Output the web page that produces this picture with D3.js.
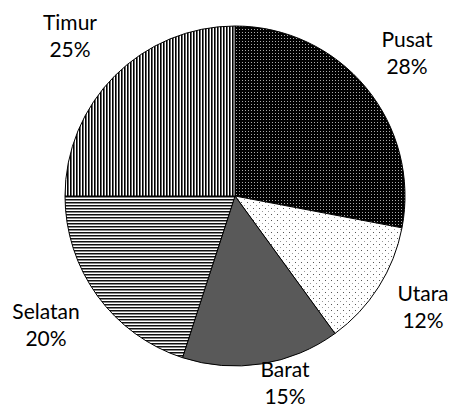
<!DOCTYPE html>
<html><head><meta charset="utf-8">
<script src="https://cdn.jsdelivr.net/npm/d3@7"></script>
<style>body{margin:0;background:#fff}</style>
</head><body>
<svg id="c" width="454" height="410"></svg>
<script>
const categories = ["Pusat","Utara","Barat","Selatan","Timur"];
const values = [28,12,15,20,25];
const labels = ["28%","12%","15%","20%","25%"];
const fills = ["url(#pPusat)","url(#pUtara)","#595959","url(#pSelatan)","url(#pTimur)"];
const labelPos = [[407,47],[423,301],[285,377],[46,319],[70,30]];

const svg = d3.select("#c");
const defs = svg.append("defs");
let p = defs.append("pattern").attr("id","pPusat").attr("patternUnits","userSpaceOnUse").attr("width",3).attr("height",3);
p.append("rect").attr("width",3).attr("height",3).attr("fill","#000");
p.append("rect").attr("x",1).attr("y",1).attr("width",1).attr("height",1).attr("fill","#aaa");
p = defs.append("pattern").attr("id","pUtara").attr("patternUnits","userSpaceOnUse").attr("width",6).attr("height",6);
p.append("rect").attr("width",6).attr("height",6).attr("fill","#fff");
p.append("rect").attr("x",0).attr("y",0).attr("width",1).attr("height",1).attr("fill","#555");
p.append("rect").attr("x",3).attr("y",3).attr("width",1).attr("height",1).attr("fill","#999");
p = defs.append("pattern").attr("id","pSelatan").attr("patternUnits","userSpaceOnUse").attr("width",4).attr("height",3);
p.append("rect").attr("width",4).attr("height",3).attr("fill","#fff");
p.append("rect").attr("y",0).attr("width",4).attr("height",1).attr("fill","#111");
p.append("rect").attr("y",1).attr("width",4).attr("height",1).attr("fill","#888");
p = defs.append("pattern").attr("id","pTimur").attr("patternUnits","userSpaceOnUse").attr("width",3).attr("height",4);
p.append("rect").attr("width",3).attr("height",4).attr("fill","#fff");
p.append("rect").attr("x",0).attr("width",1.6).attr("height",4).attr("fill","#000");

const cx = 235, cy = 196, r = 170;
const pie = d3.pie().sort(null).value(d => d);
const arc = d3.arc().innerRadius(0).outerRadius(r);
const g = svg.append("g").attr("transform",`translate(${cx},${cy})`);
g.selectAll("path").data(pie(values)).join("path")
  .attr("d", arc)
  .attr("fill", (d,i) => fills[i])
  .attr("stroke","#000").attr("stroke-width",1);

const lg = svg.append("g").attr("font-family","Lato, 'Open Sans', sans-serif").attr("font-size",21).attr("fill","#000").attr("text-anchor","middle");
categories.forEach((c,i) => {
  const t = lg.append("text").attr("x",labelPos[i][0]).attr("y",labelPos[i][1]);
  t.append("tspan").attr("x",labelPos[i][0]).text(c);
  t.append("tspan").attr("x",labelPos[i][0]).attr("dy",27).text(labels[i]);
});
</script>
</body></html>
